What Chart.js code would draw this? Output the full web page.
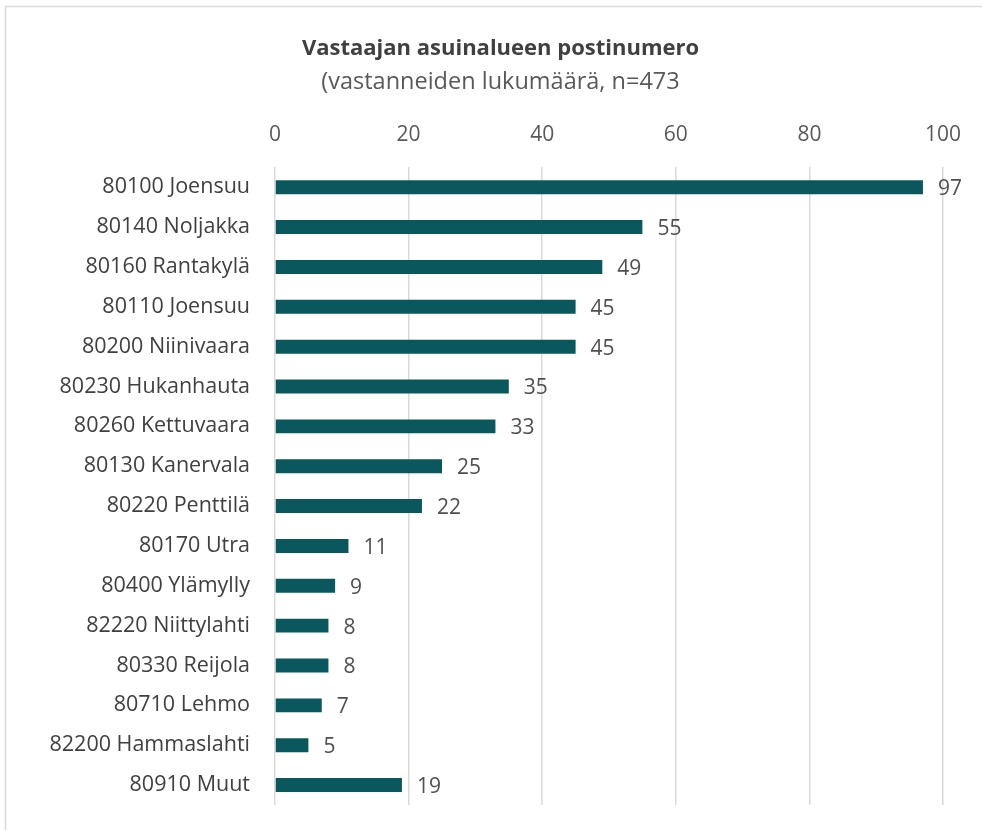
<!DOCTYPE html>
<html><head><meta charset="utf-8">
<script src="https://cdn.jsdelivr.net/npm/chart.js@4"></script>
<style>html,body{margin:0;padding:0;background:#fff;}#wrap{width:982px;height:830px;position:relative;}</style>
</head><body><div id="wrap"><canvas id="c" width="982" height="830"></canvas></div>
<script>
const categories = ["80100 Joensuu","80140 Noljakka","80160 Rantakylä","80110 Joensuu","80200 Niinivaara","80230 Hukanhauta","80260 Kettuvaara","80130 Kanervala","80220 Penttilä","80170 Utra","80400 Ylämylly","82220 Niittylahti","80330 Reijola","80710 Lehmo","82200 Hammaslahti","80910 Muut"];
const values = [97,55,49,45,45,35,33,25,22,11,9,8,8,7,5,19];
const xTicks = [0,20,40,60,80,100];
const titleText = "Vastaajan asuinalueen postinumero";
const subtitleText = "(vastanneiden lukumäärä, n=473";

const FONT = "'Open Sans', sans-serif";

const frame = {
  id: 'frame',
  beforeDraw(chart){
    const ctx = chart.ctx;
    ctx.save();
    ctx.strokeStyle = '#d9d9d9';
    ctx.lineWidth = 1.5;
    ctx.beginPath();
    ctx.moveTo(5.5, 830);
    ctx.lineTo(5.5, 6.5);
    ctx.lineTo(982, 6.5);
    ctx.stroke();
    ctx.restore();
  }
};
const unclipY = {
  id: 'unclipY',
  afterLayout(chart){ chart.scales.y.left = 0; }
};
const valueLabels = {
  id: 'valueLabels',
  afterDatasetsDraw(chart){
    const ctx = chart.ctx;
    const meta = chart.getDatasetMeta(0);
    ctx.save();
    ctx.font = "21px " + FONT;
    ctx.fillStyle = '#505050';
    ctx.textAlign = 'left';
    ctx.textBaseline = 'middle';
    meta.data.forEach((bar, i) => {
      ctx.fillText(String(values[i]), bar.x + 15, bar.y + 2);
    });
    ctx.restore();
  }
};

new Chart(document.getElementById('c'), {
  type: 'bar',
  data: {
    labels: categories,
    datasets: [{
      data: values,
      backgroundColor: '#0a585d',
      borderWidth: 0,
      barPercentage: 0.35,
      categoryPercentage: 1
    }]
  },
  options: {
    indexAxis: 'y',
    responsive: false,
    animation: false,
    layout: { padding: { left: 58, right: 39, top: 0, bottom: 25 } },
    plugins: {
      legend: { display: false },
      tooltip: { enabled: false },
      title: {
        display: true, text: titleText,
        font: { family: FONT, size: 22, weight: 'bold', lineHeight: 1.2 },
        color: '#404040',
        padding: { top: 36, bottom: 0 }
      },
      subtitle: {
        display: true, text: subtitleText,
        font: { family: FONT, size: 23.5, lineHeight: 1.2 },
        color: '#595959',
        padding: { top: 5.7, bottom: 11 }
      }
    },
    scales: {
      x: {
        position: 'top',
        min: 0, max: 100,
        afterBuildTicks(scale){ scale.ticks = xTicks.map(v => ({ value: v })); },
        afterFit(scale){ scale.height = 60; scale.paddingLeft = 0; scale.paddingRight = 0; },
        grid: { color: '#d9d9d9', lineWidth: 1.5, drawTicks: false },
        border: { display: false },
        ticks: { padding: 20, color: '#595959', font: { family: FONT, size: 21 } }
      },
      y: {
        afterFit(scale){ scale.width = 217; scale.paddingTop = 0; scale.paddingBottom = 0; },
        grid: { display: false, drawTicks: false },
        border: { display: false },
        ticks: { padding: 25, color: '#404040', font: { family: FONT, size: 21.5 } }
      }
    }
  },
  plugins: [frame, unclipY, valueLabels]
});
</script></body></html>
